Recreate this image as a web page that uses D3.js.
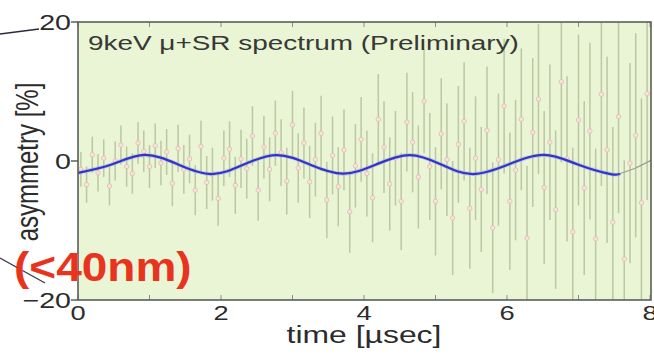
<!DOCTYPE html>
<html><head><meta charset="utf-8">
<script src="https://cdn.jsdelivr.net/npm/d3@7"></script>
<style>
body{margin:0;background:#fff}
svg{display:block}
text{font-family:"Liberation Sans",Arial,Helvetica,sans-serif}
</style>
</head><body>
<svg id="c" width="654" height="354"></svg>
<script>
// ---- data ----
const times = [0.04,0.12,0.20,0.28,0.36,0.44,0.52,0.60,0.68,0.76,0.84,0.92,1.00,1.08,1.16,1.24,1.32,1.40,1.48,1.56,1.64,1.72,1.80,1.88,1.96,2.04,2.12,2.20,2.28,2.36,2.44,2.52,2.60,2.68,2.76,2.84,2.92,3.00,3.08,3.16,3.24,3.32,3.40,3.48,3.56,3.64,3.72,3.80,3.88,3.96,4.04,4.12,4.20,4.28,4.36,4.44,4.52,4.60,4.68,4.76,4.84,4.92,5.00,5.08,5.16,5.24,5.32,5.40,5.48,5.56,5.64,5.72,5.80,5.88,5.96,6.04,6.12,6.20,6.28,6.36,6.44,6.52,6.60,6.68,6.76,6.84,6.92,7.00,7.08,7.16,7.24,7.32,7.40,7.48,7.56,7.64,7.72,7.80,7.88,7.96];
const asym = [-1.2,-3.4,0.9,-1.7,0.4,-3.6,0.0,2.3,-0.8,-1.8, 2.6,1.4,-0.8,2.2,-0.3,1.3,-3.2,1.8,-1.2,0.3, -4.2,2.1,-3.1,-1.9,-5.4,0.4,1.7,-3.5,0.3,-1.1, 3.6,-4.2,2.0,-1.2,4.0,1.2,-2.9,5.2,-1.0,2.6, -3.0,0.2,4.0,-5.6,0.8,-3.7,1.6,-7.3,-0.7,3.1, -1.8,-5.3,6.0,2.0,-3.3,0.4,-5.8,5.6,2.7,-2.3, 8.6,-0.8,-5.8,3.9,0.2,-8.2,2.4,5.7,-6.8,0.4, -4.1,4.4,-9.6,0.2,7.9,-5.8,-1.3,6.0,-11.1,4.1, 8.9,-3.8,2.7,-7.0,11.4,0.3,-10.2,5.9,-3.9,4.3, -11.2,9.6,1.6,-8.8,6.4,-14.1,-0.3,3.7,-6.0,9.7];
const asymErr = [2.5,2.6,2.6,2.7,2.7,2.8,2.8,2.8,2.9,2.9, 3.0,3.0,3.1,3.2,3.2,3.3,3.3,3.4,3.5,3.5, 3.6,3.7,3.8,3.8,3.9,4.0,4.0,4.1,4.2,4.3, 4.3,4.4,4.5,4.6,4.7,4.8,4.8,4.9,5.0,5.1, 5.2,5.3,5.4,5.5,5.6,5.7,5.8,5.9,6.0,6.1, 6.2,6.4,6.5,6.6,6.7,6.8,7.0,7.1,7.2,7.4, 7.5,7.7,7.8,8.0,8.1,8.2,8.4,8.5,8.7,8.9, 9.0,9.2,9.4,9.5,9.7,9.9,10.1,10.2,10.4,10.7, 10.8,11.0,11.2,11.4,11.6,11.9,12.1,12.3,12.5,12.7, 13.0,13.2,13.4,13.7,13.9,14.2,14.4,14.7,15.0,15.3];
const fitT = [0,0.47,0.93,1.40,1.87,2.32,2.78,3.24,3.71,4.18,4.64,5.08,5.52,6.02,6.52,6.99,7.45,7.58];
const fitV = [-1.7,-0.5,0.88,-0.5,-1.88,-0.5,0.85,-0.5,-1.82,-0.45,0.85,-0.5,-1.88,-0.5,0.88,-0.5,-1.88,-1.8];
const extT = [7.58,7.80,8.05];
const extV = [-1.8,-1.0,0.3];
const xMajor = [0,2,4,6,8];
const xMinor = [1,3,5,7];
const yTicks = [-20,0,20];
const title = "9keV \u03bc+SR spectrum (Preliminary)";
const xLabel = "time [\u00b5sec]";
const yLabel = "asymmetry [%]";
const note = "(<40nm)";

// ---- layout ----
const L = 78, R = 651, T = 22, B = 300;
const SX = 1.3; // horizontal glyph stretch seen in the picture
const svg = d3.select("#c");
const x = d3.scaleLinear().domain([0, 8]).range([L, R - 1]);
const y = d3.scaleLinear().domain([-20, 20]).range([B, T]);

svg.append("defs").append("clipPath").attr("id","pc")
  .append("rect").attr("x",L).attr("y",T).attr("width",R-L).attr("height",B-T);

svg.append("rect").attr("x",L).attr("y",T).attr("width",R-L).attr("height",B-T)
  .attr("fill","#e9f5d4");

const pts = times.map((t,i)=>({t, v:asym[i], e:asymErr[i]}));
const g = svg.append("g").attr("clip-path","url(#pc)");

g.selectAll("line.eb").data(pts).join("line").attr("class","eb")
  .attr("x1",d=>x(d.t)).attr("x2",d=>x(d.t))
  .attr("y1",d=>y(d.v+d.e)).attr("y2",d=>y(d.v-d.e))
  .attr("stroke","#b5bf9b").attr("stroke-width",1.5).attr("opacity",0.85);

g.selectAll("circle").data(pts).join("circle")
  .attr("cx",d=>x(d.t)).attr("cy",d=>y(d.v)).attr("r",2.2)
  .attr("fill","#f7e4de").attr("stroke","#e6b7ad").attr("stroke-width",0.8);

const line = d3.line().x(d=>x(d[0])).y(d=>y(d[1])).curve(d3.curveNatural);
g.append("path").datum(extT.map((t,i)=>[t,extV[i]])).attr("d",line)
  .attr("fill","none").attr("stroke","#9a9f94").attr("stroke-width",1.2);
const fit = fitT.map((t,i)=>[t,fitV[i]]);
g.append("path").datum(fit).attr("d",line)
  .attr("fill","none").attr("stroke","#9fa8ee").attr("stroke-width",4).attr("opacity",0.5);
g.append("path").datum(fit).attr("d",line)
  .attr("fill","none").attr("stroke","#3434c4").attr("stroke-width",2.2);

// inward ticks top & bottom
const allX = xMajor.concat(xMinor);
svg.append("g").selectAll("line").data(allX).join("line")
  .attr("x1",d=>x(d)).attr("x2",d=>x(d)).attr("y1",B).attr("y2",B-5)
  .attr("stroke","#8a9080").attr("stroke-width",1);
svg.append("g").selectAll("line").data(allX).join("line")
  .attr("x1",d=>x(d)).attr("x2",d=>x(d)).attr("y1",T).attr("y2",T+5)
  .attr("stroke","#8a9080").attr("stroke-width",1);

// frame
svg.append("rect").attr("x",L).attr("y",T).attr("width",R-L).attr("height",B-T)
  .attr("fill","none").attr("stroke","#5b5e58").attr("stroke-width",1.6);

// y ticks (outward)
svg.append("g").selectAll("line").data(yTicks).join("line")
  .attr("x1",L-7).attr("x2",L).attr("y1",d=>y(d)).attr("y2",d=>y(d))
  .attr("stroke","#555").attr("stroke-width",1.4);

// y tick labels
svg.append("g").selectAll("text").data(yTicks).join("text")
  .attr("transform",d=>`translate(71,${y(d)+8}) scale(${SX},1)`)
  .attr("text-anchor","end").attr("font-size",22).attr("fill","#2c2c2c")
  .text(d=>d<0?"\u2212"+Math.abs(d):d);

// x tick labels
svg.append("g").selectAll("text").data(xMajor).join("text")
  .attr("transform",d=>`translate(${x(d)},320) scale(${SX},1)`)
  .attr("text-anchor","middle").attr("font-size",21).attr("fill","#2c2c2c")
  .text(d=>d);

// axis titles
svg.append("text").attr("transform",`translate(${x(4)},343) scale(1.33,1)`)
  .attr("text-anchor","middle").attr("font-size",24).attr("fill","#2c2c2c").text(xLabel);
svg.append("text").attr("transform",`translate(38,162) scale(${SX},1) rotate(-90)`)
  .attr("text-anchor","middle").attr("font-size",24).attr("fill","#2c2c2c").text(yLabel);

// title in plot
svg.append("text").attr("transform",`translate(88,50) scale(1.33,1)`)
  .attr("font-size",21).attr("fill","#383838").text(title);

// annotation leader lines (left edge)
svg.append("line").attr("x1",0).attr("y1",34).attr("x2",39).attr("y2",29)
  .attr("stroke","#2a2a3a").attr("stroke-width",1.3);
svg.append("line").attr("x1",0).attr("y1",258).attr("x2",45).attr("y2",283)
  .attr("stroke","#3a3a55").attr("stroke-width",1.3);

// red note
svg.append("text").attr("transform",`translate(14,281) scale(1.15,1)`)
  .attr("font-size",40).attr("font-weight","bold").attr("fill","#e8341f").text(note);
</script>
</body></html>
